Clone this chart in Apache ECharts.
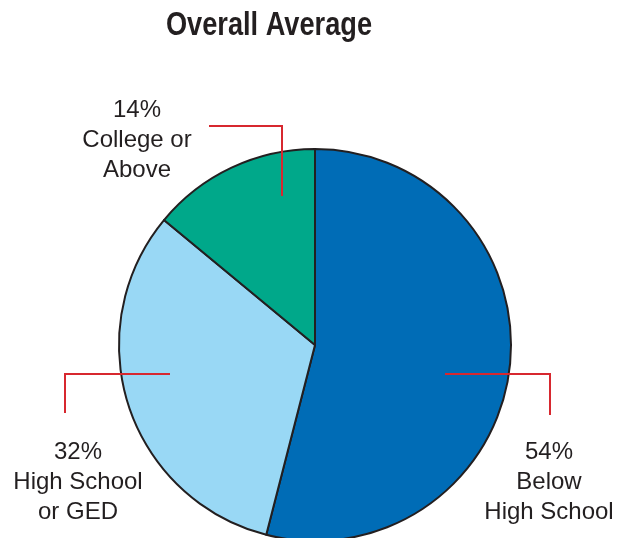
<!DOCTYPE html>
<html>
<head>
<meta charset="utf-8">
<script src="https://cdn.jsdelivr.net/npm/echarts@6/dist/echarts.min.js"></script>
<style>
html,body{margin:0;padding:0;background:#fff;}
#chart{width:621px;height:538px;}
</style>
</head>
<body>
<div id="chart"></div>
<script>
// Data
var title = 'Overall Average';
var categories = ['Below\nHigh School', 'High School\nor GED', 'College or\nAbove'];
var values = [54, 32, 14];

// Styling (not data)
var colors = ['#006CB6', '#99D8F5', '#00A88A'];
var labelPos = [
  {x: 549, y: 482, line: [[445, 374], [550, 374], [550, 415]]},
  {x: 78,  y: 482, line: [[170, 374], [65, 374], [65, 413]]},
  {x: 137, y: 140, line: [[282, 196], [282, 126], [209, 126]]}
];

var pieData = categories.map(function (c, i) {
  return {name: c, value: values[i], itemStyle: {color: colors[i]}};
});

var chart = echarts.init(document.getElementById('chart'), null, {renderer: 'canvas'});
chart.setOption({
  animation: false,
  backgroundColor: '#ffffff',
  graphic: [{
    type: 'text',
    x: 269,
    y: 26,
    scaleX: 0.8,
    style: {
      text: title,
      x: 0,
      y: 0,
      align: 'center',
      verticalAlign: 'middle',
      fontFamily: '"Liberation Sans", Arial, sans-serif',
      fontWeight: 'bold',
      fontSize: 34,
      fill: '#231F20'
    }
  }],
  series: [{
    type: 'pie',
    z: 2,
    center: [315, 345],
    radius: 196,
    startAngle: 90,
    clockwise: true,
    silent: true,
    data: pieData,
    itemStyle: {borderColor: '#231F20', borderWidth: 2},
    label: {show: false},
    labelLine: {show: false},
    emphasis: {disabled: true}
  }, {
    type: 'pie',
    z: 5,
    center: [315, 345],
    radius: 196,
    startAngle: 90,
    clockwise: true,
    silent: true,
    data: categories.map(function (c, i) { return {name: c, value: values[i]}; }),
    itemStyle: {color: 'rgba(0,0,0,0)', borderWidth: 0},
    label: {
      show: true,
      position: 'outside',
      formatter: function (p) { return p.value + '%\n' + p.name; },
      fontFamily: '"Liberation Sans", Arial, sans-serif',
      fontSize: 24,
      lineHeight: 30,
      color: '#231F20',
      align: 'center',
      overflow: 'none',
      width: 200
    },
    labelLine: {
      show: true,
      lineStyle: {color: '#D7282F', width: 2}
    },
    labelLayout: function (p) {
      var s = labelPos[p.dataIndex];
      return {
        x: s.x,
        y: s.y,
        align: 'center',
        verticalAlign: 'middle',
        labelLinePoints: s.line
      };
    },
    emphasis: {disabled: true}
  }]
});
</script>
</body>
</html>
